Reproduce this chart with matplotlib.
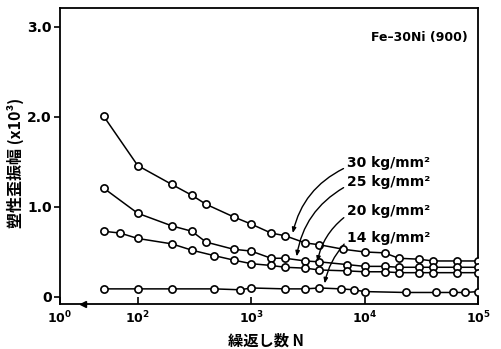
import matplotlib
matplotlib.use("Agg")
import matplotlib.pyplot as plt
import numpy as np

# ---- data ----
N30 = [50, 100, 200, 300, 400, 700, 1000, 1500, 2000, 3000, 4000, 6500, 10000, 15000, 20000, 30000, 40000, 65000, 100000]
A30 = [2.01, 1.46, 1.25, 1.13, 1.03, 0.89, 0.81, 0.71, 0.68, 0.60, 0.58, 0.53, 0.50, 0.49, 0.43, 0.42, 0.40, 0.40, 0.40]

N25 = [50, 100, 200, 300, 400, 700, 1000, 1500, 2000, 3000, 4000, 7000, 10000, 15000, 20000, 30000, 40000, 65000, 100000]
A25 = [1.21, 0.93, 0.79, 0.73, 0.61, 0.53, 0.51, 0.43, 0.43, 0.40, 0.39, 0.36, 0.34, 0.34, 0.33, 0.33, 0.33, 0.33, 0.33]

N20 = [50, 70, 100, 200, 300, 470, 700, 1000, 1500, 2000, 3000, 4000, 7000, 10000, 15000, 20000, 30000, 40000, 65000, 100000]
A20 = [0.73, 0.71, 0.65, 0.59, 0.52, 0.46, 0.41, 0.37, 0.35, 0.33, 0.32, 0.30, 0.29, 0.28, 0.28, 0.27, 0.27, 0.27, 0.27, 0.27]

N14 = [50, 100, 200, 470, 800, 1000, 2000, 3000, 4000, 6200, 8000, 10000, 23000, 43000, 60000, 77000, 100000]
A14 = [0.09, 0.09, 0.09, 0.09, 0.08, 0.10, 0.09, 0.09, 0.10, 0.09, 0.08, 0.06, 0.05, 0.05, 0.05, 0.05, 0.06]

series_labels = ["30 kg/mm²", "25 kg/mm²", "20 kg/mm²", "14 kg/mm²"]
x_ticks = [1e2, 1e3, 1e4, 1e5]
x_tick_labels = ["$\\mathbf{10^2}$", "$\\mathbf{10^3}$", "$\\mathbf{10^4}$", "$\\mathbf{10^5}$"]
y_ticks = [0, 1.0, 2.0, 3.0]
y_tick_labels = ["0", "1.0", "2.0", "3.0"]

plt.rcParams['font.family'] = ['DejaVu Sans']
fig = plt.figure(figsize=(5.01, 3.49), dpi=100)
W, H = 501, 349
x0, x1, y0, y1 = 60, 478, 8, 304
ax = fig.add_axes([x0 / W, 1 - y1 / H, (x1 - x0) / W, (y1 - y0) / H])

ax.set_xscale('log')
xmin = 10 ** 1.315
ax.set_xlim(xmin, 10 ** 5.0)
ax.set_ylim(-0.078, 3.21)

for N, A in [(N30, A30), (N25, A25), (N20, A20), (N14, A14)]:
    ax.plot(N, A, color='black', lw=1.1, marker='o', ms=5.2, mfc='white',
            mec='black', mew=1.2, zorder=3)

ax.set_xticks([xmin] + x_ticks)
ax.set_xticklabels(["$\\mathbf{10^0}$"] + x_tick_labels)
ax.xaxis.set_minor_locator(matplotlib.ticker.NullLocator())
ax.set_yticks(y_ticks)
ax.set_yticklabels(y_tick_labels, fontweight='bold', fontsize=10)
ax.tick_params(axis='x', direction='in', length=5, width=1.2, labelsize=9, pad=4)
ax.tick_params(axis='y', direction='out', length=4, width=1.2, pad=2)
for s in ax.spines.values():
    s.set_linewidth(1.3)

# axis break mark
ax.plot([0.055], [0.0], transform=ax.transAxes, marker='<', ms=5, color='black',
        clip_on=False, zorder=5)

# title
ax.text(0.86, 0.90, "Fe\u201330Ni (900)", transform=ax.transAxes, ha='center',
        va='center', fontsize=9, fontweight='bold')

# labels with leader lines
text_pos = [(7000, 1.49), (7000, 1.28), (7000, 0.95), (7000, 0.66)]
targets = [(2300, 0.68), (2500, 0.42), (3800, 0.36), (4400, 0.12)]
rads = [0.25, 0.25, 0.2, 0.15]
for lab, tp, tg, r in zip(series_labels, text_pos, targets, rads):
    ax.text(tp[0], tp[1], lab, ha='left', va='center', fontsize=10,
            fontweight='bold')
    ax.annotate("", xy=tg, xytext=(tp[0] * 0.98, tp[1] - 0.05),
                arrowprops=dict(arrowstyle='-|>,head_length=0.3,head_width=0.12',
                                color='black', lw=1.0,
                                connectionstyle=f"arc3,rad={r}"))

fig.text(15 / W, 1 - 163 / H, "塑性歪振幅 (x10³)", rotation=90, ha='center',
         va='center', fontsize=11.5, fontweight='bold',
         family=['Noto Sans CJK JP', 'DejaVu Sans'])
fig.text(266 / W, 1 - 341 / H, "繰返し数 N", ha='center', va='center', fontsize=11,
         fontweight='bold', family=['Noto Sans CJK JP', 'DejaVu Sans'])

fig.savefig("out.png", dpi=100)
